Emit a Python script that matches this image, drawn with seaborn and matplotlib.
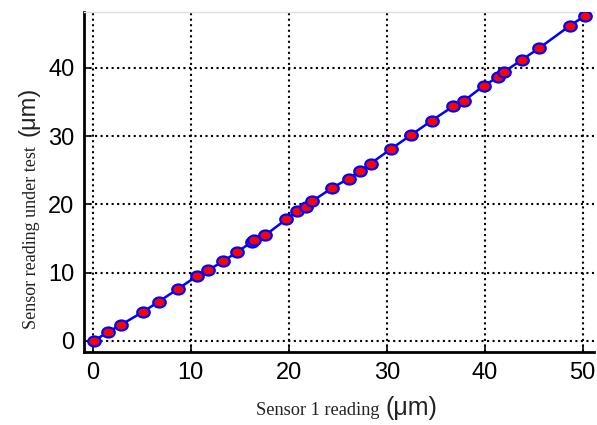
import numpy as np
import pandas as pd
import matplotlib
matplotlib.use("Agg")
import matplotlib.pyplot as plt
from matplotlib.path import Path
from matplotlib.transforms import Affine2D
import seaborn as sns

# datos
sensor1 = [0.1, 1.5, 2.9, 5.15, 6.7, 8.7, 10.6, 11.8, 13.3, 14.75, 16.2, 16.4, 17.6,
           19.7, 20.8, 21.75, 22.4, 24.4, 26.1, 27.3, 28.35, 30.4, 32.5, 34.6,
           36.8, 37.9, 39.9, 41.4, 41.95, 43.8, 45.55, 48.7, 50.2]
sensor_test = [0.0, 1.3, 2.4, 4.3, 5.75, 7.65, 9.5, 10.4, 11.7, 13.05, 14.5, 14.8, 15.5,
               17.8, 19.1, 19.6, 20.5, 22.4, 23.8, 24.9, 26.0, 28.1, 30.2, 32.3,
               34.4, 35.2, 37.4, 38.7, 39.4, 41.2, 42.9, 46.2, 47.6]
x_ticks = [0, 10, 20, 30, 40, 50]
y_ticks = [0, 10, 20, 30, 40]

df = pd.DataFrame({"s1": sensor1, "st": sensor_test})

sns.set_style("white")
plt.rcParams["font.family"] = ["Liberation Sans", "DejaVu Sans"]

fig = plt.figure(figsize=(5.97, 4.25), dpi=100)
ax = fig.add_axes([0.1407, 0.1718, 0.855, 0.80])

# marcador eliptico (un poco mas ancho que alto)
elipse = Path.unit_circle().transformed(Affine2D().scale(1.0, 0.8))

sns.lineplot(data=df, x="s1", y="st", ax=ax, sort=False, color="blue", linewidth=1.8,
             marker=elipse, markersize=9, markerfacecolor="red",
             markeredgecolor="blue", markeredgewidth=1.6, zorder=3)

ax.set_xlim(-0.91, 51.2)
ax.set_ylim(-1.61, 48.2)
ax.set_xticks(x_ticks)
ax.set_yticks(y_ticks)
ax.grid(True, color="black", linestyle=":", linewidth=1.5)
ax.tick_params(direction="in", length=4, width=1.2, labelsize=17, pad=7,
               bottom=True, left=True, colors="black")
for lado in ["left", "bottom"]:
    ax.spines[lado].set_color("black")
    ax.spines[lado].set_linewidth(2)
ax.spines["top"].set_color("#e0e0e0")
ax.spines["top"].set_linewidth(1)
ax.spines["right"].set_visible(False)
ax.set_xlabel("")
ax.set_ylabel("")

# etiquetas con fuentes mezcladas
fig.text(0.052, 0.440, "Sensor reading under test", rotation=90, ha="center", va="center",
         family="Liberation Serif", fontsize=13, color="#222222")
fig.text(0.048, 0.737, "(\u03bcm)", rotation=90, ha="center", va="center",
         fontsize=17, color="#222222")
fig.text(0.533, 0.035, "Sensor 1 reading", ha="center", va="center",
         family="Liberation Serif", fontsize=13.2, color="#222222")
fig.text(0.690, 0.040, "(\u03bcm)", ha="center", va="center",
         fontsize=18, color="#222222")

fig.savefig("out.png", dpi=100)
